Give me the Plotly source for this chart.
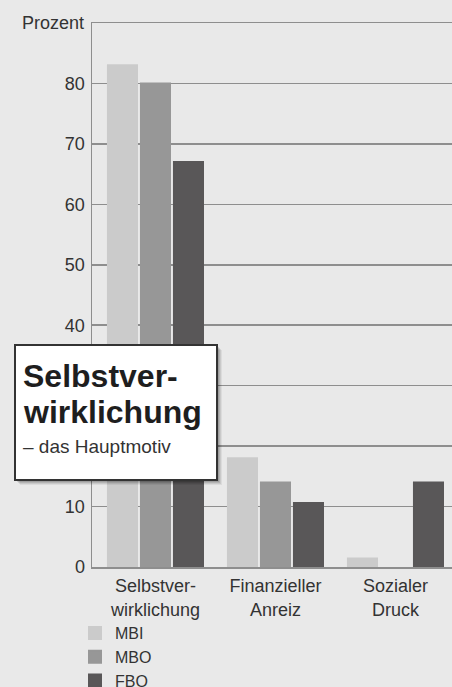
import plotly.graph_objects as go

categories = ["Selbstver-<br>wirklichung", "Finanzieller<br>Anreiz", "Sozialer<br>Druck"]
series_names = ["MBI", "MBO", "FBO"]
mbi = [83, 18, 1.4]
mbo = [80, 14, 0]
fbo = [67, 10.6, 14]
y_ticks = [0, 10, 20, 30, 40, 50, 60, 70, 80]
# 20 and 30 are hidden behind the callout box in the original
y_tick_text = ["0", "10", "", "", "40", "50", "60", "70", "80"]

colors = ["#cbcbcb", "#979797", "#595758"]
BG = "#e9e9e9"
GRID = "#8e8e8e"
TXT = "#333333"

W, H = 452, 687
L, R, T, B = 92, 0, 23, 120
PW, PH = W - L - R, H - T - B


def px(p):
    return (p - L) / PW


def py(p):
    return (H - B - p) / PH


fig = go.Figure()
for name, vals, c in zip(series_names, [mbi, mbo, fbo], colors):
    fig.add_trace(go.Bar(
        name=name, x=categories, y=vals,
        marker=dict(color=c, line=dict(width=[2 if v > 0 else 0 for v in vals], color=c)),
    ))

font_family = "Liberation Sans, Arial, sans-serif"

shapes = []
# shadow of the callout box
for off, a in [(5, 0.06), (4, 0.08), (3, 0.1), (2, 0.12)]:
    shapes.append(dict(type="rect", xref="paper", yref="paper", layer="above",
                       x0=px(15 + off), x1=px(217 + off), y0=py(345 + off), y1=py(480 + off),
                       fillcolor=f"rgba(0,0,0,{a})", line=dict(width=0)))
shapes.append(dict(type="rect", xref="paper", yref="paper", layer="above",
                   x0=px(15), x1=px(217), y0=py(345), y1=py(480),
                   fillcolor="white", line=dict(color="#333333", width=2)))

annotations = [
    dict(text="Prozent", xref="paper", yref="paper", x=px(86), y=py(23),
         xanchor="right", yanchor="middle", showarrow=False,
         font=dict(size=18, color=TXT, family=font_family)),
    dict(text="<b>Selbstver-</b>", xref="paper", yref="paper", x=px(21), y=py(376),
         xanchor="left", yanchor="middle", showarrow=False,
         font=dict(size=32, color="#1e1e1e", family=font_family)),
    dict(text="<b>wirklichung</b>", xref="paper", yref="paper", x=px(21), y=py(412),
         xanchor="left", yanchor="middle", showarrow=False,
         font=dict(size=32, color="#1e1e1e", family=font_family)),
    dict(text="– das Hauptmotiv", xref="paper", yref="paper", x=px(21), y=py(446),
         xanchor="left", yanchor="middle", showarrow=False,
         font=dict(size=19, color=TXT, family=font_family)),
]

fig.update_layout(
    width=W, height=H, autosize=False,
    margin=dict(l=L, r=R, t=T, b=B, pad=0, autoexpand=False),
    paper_bgcolor=BG, plot_bgcolor=BG,
    barmode="group", bargap=0.175, bargroupgap=0.12,
    font=dict(family=font_family, size=18, color=TXT),
    showlegend=True,
    legend=dict(x=px(75), y=py(616), xanchor="left", yanchor="top",
                bgcolor=BG, font=dict(size=16, color=TXT), traceorder="normal",
                borderwidth=0),
    shapes=shapes,
    annotations=annotations,
)
fig.update_xaxes(
    range=[-0.529, 2.471], showline=True, mirror=True, linecolor=GRID, linewidth=1.5,
    showgrid=False, ticks="", tickfont=dict(size=18, color=TXT),
    ticklabelstandoff=2, fixedrange=True,
)
fig.update_yaxes(
    range=[0, 90], tickvals=y_ticks, ticktext=y_tick_text,
    showgrid=True, gridcolor=GRID, gridwidth=1.5,
    showline=True, linecolor=GRID, linewidth=1.5, zeroline=False, ticks="",
    ticklabelstandoff=2, tickfont=dict(size=18, color=TXT), fixedrange=True,
)

fig.write_html(
    "out.html",
    config={"displayModeBar": False, "staticPlot": True},
    post_script="document.body.style.margin='0';document.body.style.overflow='hidden';",
)
